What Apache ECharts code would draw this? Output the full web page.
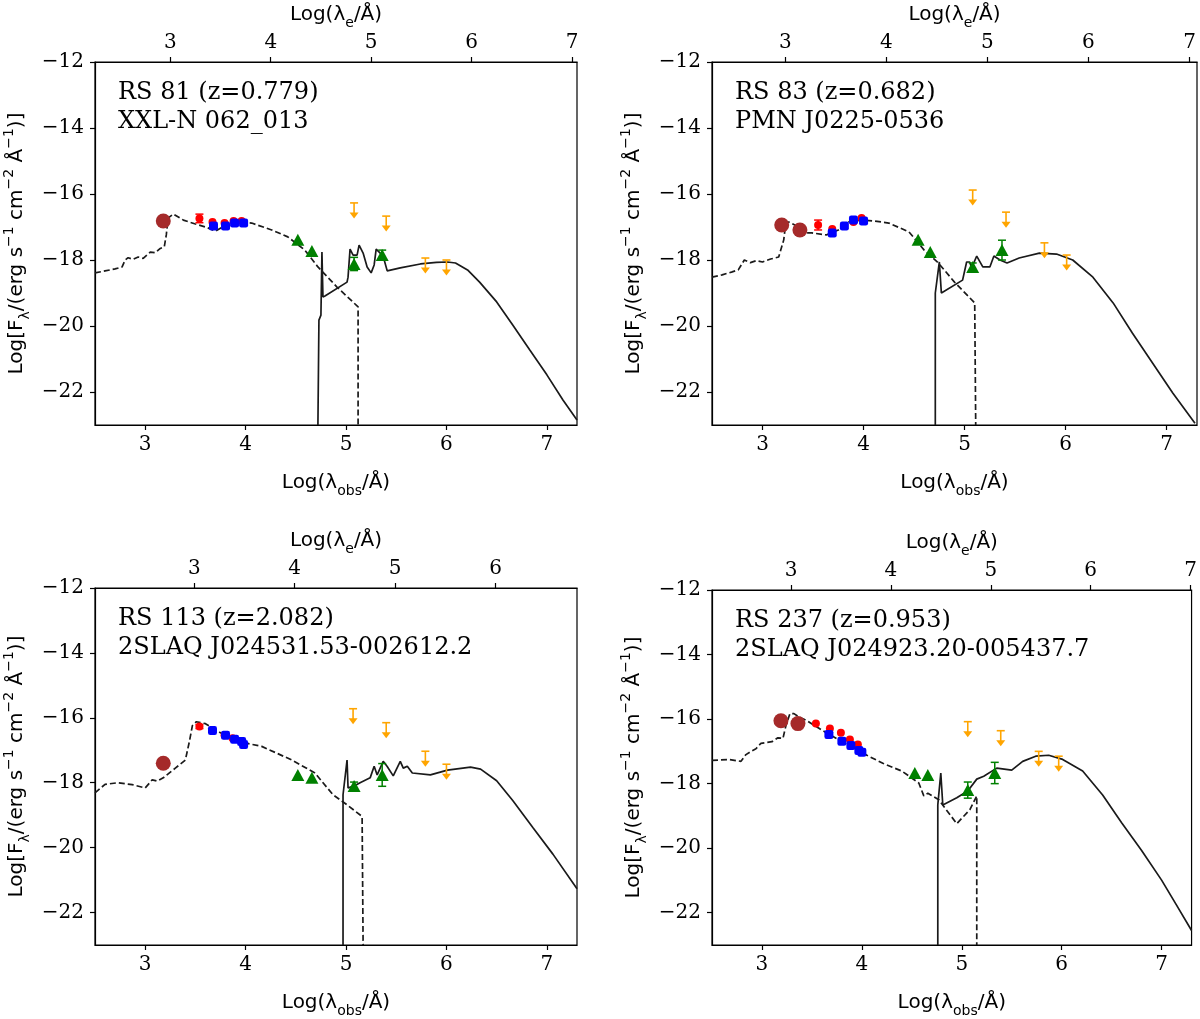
<!DOCTYPE html>
<html>
<head>
<meta charset="utf-8">
<script src="https://cdn.jsdelivr.net/npm/echarts@6/dist/echarts.min.js"></script>
<style>
html,body{margin:0;padding:0;background:#fff;}
#c{width:1200px;height:1019px;}
</style>
</head>
<body>
<div id="c"></div>
<script>
// ---------------- DATA ----------------
const redshifts = [0.779, 0.682, 2.082, 0.953];
const labelLine1 = ['RS 81 (z=0.779)', 'RS 83 (z=0.682)', 'RS 113 (z=2.082)', 'RS 237 (z=0.953)'];
const labelLine2 = ['XXL-N 062_013', 'PMN J0225-0536', '2SLAQ J024531.53-002612.2', '2SLAQ J024923.20-005437.7'];
const yTicks = [-22, -20, -18, -16, -14, -12];
const xTicksObs = [3, 4, 5, 6, 7];
const xTicksRest = [2, 3, 4, 5, 6, 7];

// Panel 1 : RS 81
const p1Dashed = [[2.5,-18.39],[2.6,-18.33],[2.7,-18.27],[2.77,-18.21],[2.8,-18.0],[2.83,-17.93],[2.88,-17.98],[2.93,-17.91],[2.98,-17.95],[3.05,-17.76],[3.1,-17.78],[3.15,-17.65],[3.19,-17.6],[3.21,-17.24],[3.22,-16.94],[3.24,-16.70],[3.28,-16.61],[3.33,-16.70],[3.38,-16.79],[3.5,-16.91],[3.6,-17.0],[3.7,-17.12],[3.76,-17.02],[3.82,-16.88],[3.96,-16.85],[4.06,-16.88],[4.26,-17.09],[4.42,-17.30],[4.59,-17.70],[4.72,-18.21],[4.91,-18.82],[5.12,-19.42],[5.12,-23]];
const p1Solid = [[4.72,-23],[4.73,-19.82],[4.75,-19.67],[4.76,-17.76],[4.77,-19.12],[4.79,-19.09],[5.01,-18.67],[5.02,-18.52],[5.04,-17.67],[5.07,-17.85],[5.11,-17.85],[5.13,-17.55],[5.17,-17.79],[5.21,-18.21],[5.25,-18.39],[5.28,-18.15],[5.30,-17.67],[5.34,-17.79],[5.38,-18.0],[5.41,-18.33],[5.54,-18.24],[5.74,-18.12],[5.9,-18.07],[6.01,-18.06],[6.09,-18.09],[6.21,-18.30],[6.33,-18.67],[6.50,-19.27],[6.66,-19.97],[6.83,-20.73],[7.0,-21.48],[7.16,-22.24],[7.3,-22.85]];
const p1Brown = [[3.18,-16.82]];
const p1Red = [[3.54,-16.74],[3.67,-16.85],[3.79,-16.88],[3.88,-16.82],[3.96,-16.82]];
const p1RedErr = [[3.54,-16.74,0.13]];
const p1Blue = [[3.68,-16.97],[3.80,-16.97],[3.89,-16.88],[3.98,-16.88]];
const p1Green = [[4.52,-17.39],[4.66,-17.73],[5.08,-18.12],[5.36,-17.85]];
const p1GreenErr = [[5.08,-18.12,0.2],[5.36,-17.85,0.15]];
const p1Upper = [[5.08,-16.27],[5.40,-16.67],[5.79,-17.94],[6.00,-18.00]];

// Panel 2 : RS 83
const p2Dashed = [[2.5,-18.52],[2.6,-18.45],[2.7,-18.36],[2.76,-18.30],[2.82,-18.0],[2.88,-18.08],[2.94,-18.02],[3.0,-18.06],[3.08,-17.97],[3.16,-17.91],[3.21,-17.39],[3.23,-16.88],[3.26,-16.85],[3.32,-16.94],[3.41,-17.18],[3.49,-17.18],[3.63,-17.24],[3.75,-17.09],[3.85,-16.85],[3.98,-16.79],[4.11,-16.82],[4.25,-16.88],[4.45,-17.15],[4.60,-17.70],[4.74,-18.09],[4.90,-18.67],[5.10,-19.30],[5.11,-19.36],[5.11,-23]];
const p2Solid = [[4.71,-23],[4.71,-19.0],[4.75,-18.06],[4.77,-19.0],[4.98,-18.61],[5.02,-18.06],[5.05,-18.06],[5.07,-18.24],[5.12,-17.88],[5.18,-18.21],[5.25,-18.21],[5.29,-17.88],[5.35,-18.0],[5.42,-18.09],[5.54,-17.94],[5.74,-17.79],[5.91,-17.82],[6.07,-18.0],[6.27,-18.52],[6.47,-19.30],[6.66,-20.21],[6.86,-21.12],[7.06,-22.03],[7.28,-22.95]];
const p2Brown = [[3.19,-16.94],[3.37,-17.09]];
const p2Red = [[3.55,-16.94],[3.69,-17.06],[3.90,-16.85],[3.98,-16.73]];
const p2RedErr = [[3.55,-16.94,0.15]];
const p2Blue = [[3.69,-17.18],[3.81,-16.97],[3.90,-16.79],[4.00,-16.82]];
const p2Green = [[4.54,-17.39],[4.66,-17.76],[5.08,-18.21],[5.37,-17.70]];
const p2GreenErr = [[5.08,-18.21,0.12],[5.37,-17.70,0.3]];
const p2Upper = [[5.08,-15.88],[5.41,-16.55],[5.79,-17.48],[6.01,-17.85]];

// Panel 3 : RS 113
const p3Dashed = [[2.5,-18.31],[2.6,-18.05],[2.73,-18.0],[2.87,-18.06],[3.0,-18.16],[3.07,-17.91],[3.12,-17.95],[3.18,-17.85],[3.3,-17.55],[3.4,-17.30],[3.44,-16.73],[3.47,-16.24],[3.51,-16.12],[3.6,-16.18],[3.76,-16.48],[3.92,-16.73],[4.16,-16.88],[4.46,-17.30],[4.69,-17.70],[4.87,-18.37],[5.01,-18.68],[5.16,-19.04],[5.17,-19.04],[5.17,-23]];
const p3Solid = [[4.97,-23],[4.97,-18.37],[5.01,-17.30],[5.02,-18.16],[5.08,-18.1],[5.14,-18.0],[5.24,-17.85],[5.28,-17.49],[5.31,-17.76],[5.37,-17.34],[5.41,-17.5],[5.47,-17.79],[5.54,-17.34],[5.57,-17.55],[5.61,-17.49],[5.66,-17.70],[5.84,-17.76],[6.01,-17.61],[6.24,-17.52],[6.34,-17.58],[6.50,-17.94],[6.66,-18.55],[6.86,-19.38],[7.06,-20.20],[7.3,-21.27]];
const p3Brown = [[3.18,-17.40]];
const p3Red = [[3.54,-16.27],[3.79,-16.54],[3.87,-16.63]];
const p3RedErr = [[3.54,-16.27,0.06]];
const p3Blue = [[3.67,-16.39],[3.80,-16.54],[3.89,-16.66],[3.96,-16.73],[3.98,-16.82]];
const p3Green = [[4.52,-17.76],[4.66,-17.85],[5.08,-18.10],[5.36,-17.76]];
const p3GreenErr = [[5.08,-18.10,0.12],[5.36,-17.76,0.35]];
const p3Upper = [[5.07,-15.72],[5.40,-16.15],[5.79,-17.03],[6.00,-17.43]];

// Panel 4 : RS 237
const p4Dashed = [[2.5,-17.28],[2.67,-17.25],[2.79,-17.31],[2.84,-17.1],[2.89,-17.0],[2.94,-16.92],[2.99,-16.75],[3.1,-16.7],[3.16,-16.58],[3.21,-16.60],[3.24,-16.20],[3.28,-15.83],[3.32,-15.83],[3.37,-15.93],[3.45,-16.05],[3.61,-16.36],[3.78,-16.66],[3.91,-16.85],[4.05,-17.12],[4.21,-17.37],[4.40,-17.61],[4.57,-17.98],[4.62,-18.38],[4.66,-18.30],[4.77,-18.50],[4.83,-18.75],[4.95,-19.24],[5.08,-18.81],[5.15,-18.38],[5.15,-23]];
const p4Solid = [[4.76,-23],[4.76,-18.66],[4.79,-17.67],[4.81,-18.66],[4.95,-18.44],[5.06,-18.23],[5.15,-17.86],[5.22,-17.77],[5.35,-17.52],[5.5,-17.58],[5.61,-17.31],[5.74,-17.15],[5.87,-17.12],[6.01,-17.25],[6.21,-17.61],[6.41,-18.35],[6.60,-19.21],[6.80,-20.07],[7.0,-20.99],[7.16,-21.82],[7.3,-22.55]];
const p4Brown = [[3.19,-16.05],[3.36,-16.14]];
const p4Red = [[3.54,-16.14],[3.68,-16.29],[3.79,-16.42],[3.88,-16.63],[3.96,-16.79]];
const p4RedErr = [];
const p4Blue = [[3.67,-16.48],[3.80,-16.69],[3.89,-16.82],[3.97,-16.97],[4.00,-17.03]];
const p4Green = [[4.53,-17.67],[4.66,-17.73],[5.06,-18.20],[5.33,-17.67]];
const p4GreenErr = [[5.06,-18.20,0.25],[5.33,-17.67,0.33]];
const p4Upper = [[5.06,-16.08],[5.39,-16.36],[5.77,-17.00],[5.97,-17.15]];

// ---------------- LAYOUT ----------------
const panelData = [
  {dashed:p1Dashed, solid:p1Solid, brown:p1Brown, red:p1Red, redErr:p1RedErr, blue:p1Blue, green:p1Green, greenErr:p1GreenErr, upper:p1Upper},
  {dashed:p2Dashed, solid:p2Solid, brown:p2Brown, red:p2Red, redErr:p2RedErr, blue:p2Blue, green:p2Green, greenErr:p2GreenErr, upper:p2Upper},
  {dashed:p3Dashed, solid:p3Solid, brown:p3Brown, red:p3Red, redErr:p3RedErr, blue:p3Blue, green:p3Green, greenErr:p3GreenErr, upper:p3Upper},
  {dashed:p4Dashed, solid:p4Solid, brown:p4Brown, red:p4Red, redErr:p4RedErr, blue:p4Blue, green:p4Green, greenErr:p4GreenErr, upper:p4Upper}
];
const grids = [
  {left:95, top:62, width:482, height:363},
  {left:712, top:62, width:485, height:363},
  {left:95, top:588, width:482, height:361},
  {left:712, top:590, width:485, height:359}
];
const X_MIN = 2.5, X_MAX = 7.3, Y_MIN = -23, Y_MAX = -12;

const tickFont = {fontFamily:'DejaVu Serif', fontSize:20, color:'#000'};
const richSubSup = {
  sub:{fontFamily:'DejaVu Sans', fontSize:14, verticalAlign:'bottom', lineHeight:14, color:'#000', padding:[0,0,-3,0]},
  sup:{fontFamily:'DejaVu Sans', fontSize:14, verticalAlign:'top', lineHeight:14, color:'#000', padding:[-3,0,0,0]}
};
const nameStyle = {fontFamily:'DejaVu Sans', fontSize:20, color:'#000', lineHeight:24, rich:richSubSup};
const minusFmt = v => (v < 0 ? '\u2212' : '') + Math.abs(Math.round(v));

const BLACK = '#1a1a1a';

function errRender(color){
  return function(params, api){
    const x = api.value(0), y = api.value(1), e = api.value(2);
    const top = api.coord([x, y + e]);
    const bot = api.coord([x, y - e]);
    const cw = 4;
    return {type:'group', children:[
      {type:'line', shape:{x1:top[0], y1:top[1], x2:bot[0], y2:bot[1]}, style:{stroke:color, lineWidth:1.5}},
      {type:'line', shape:{x1:top[0]-cw, y1:top[1], x2:top[0]+cw, y2:top[1]}, style:{stroke:color, lineWidth:1.5}},
      {type:'line', shape:{x1:bot[0]-cw, y1:bot[1], x2:bot[0]+cw, y2:bot[1]}, style:{stroke:color, lineWidth:1.5}}
    ]};
  };
}
function upperRender(params, api){
  const p = api.coord([api.value(0), api.value(1)]);
  const c = '#ffa500';
  return {type:'group', children:[
    {type:'line', shape:{x1:p[0]-4, y1:p[1], x2:p[0]+4, y2:p[1]}, style:{stroke:c, lineWidth:1.6}},
    {type:'line', shape:{x1:p[0], y1:p[1], x2:p[0], y2:p[1]+11}, style:{stroke:c, lineWidth:1.6}},
    {type:'polygon', shape:{points:[[p[0]-4.5, p[1]+9.5],[p[0]+4.5, p[1]+9.5],[p[0], p[1]+15.5]]}, style:{fill:c}}
  ]};
}

const option = {
  animation:false,
  backgroundColor:'#fff',
  grid:[], xAxis:[], yAxis:[], series:[], graphic:[]
};

panelData.forEach((pd, i) => {
  const g = grids[i];
  const off = Math.log10(1 + redshifts[i]);
  option.grid.push(Object.assign({show:true, borderColor:'#000', borderWidth:1.2, backgroundColor:'transparent', containLabel:false}, g));
  option.xAxis.push({
    type:'value', gridIndex:i, position:'bottom', min:X_MIN, max:X_MAX,
    name:'Log(λ{sub|obs}/Å)', nameLocation:'middle', nameGap:46, nameTextStyle:nameStyle,
    axisLine:{show:true, onZero:false, lineStyle:{color:'#000', width:1.2}},
    axisTick:{show:true, inside:false, length:5, customValues:xTicksObs, lineStyle:{color:'#000', width:1.2}},
    axisLabel:Object.assign({show:true, margin:10, customValues:xTicksObs, formatter:v=>String(Math.round(v))}, tickFont),
    splitLine:{show:false}
  });
  const rmin = X_MIN - off, rmax = X_MAX - off;
  const rt = xTicksRest.filter(v => v >= rmin - 1e-6 && v <= rmax + 1e-6);
  option.xAxis.push({
    type:'value', gridIndex:i, position:'top', min:rmin, max:rmax,
    name:'Log(λ{sub|e}/Å)', nameLocation:'middle', nameGap:35, nameTextStyle:nameStyle,
    axisLine:{show:true, onZero:false, lineStyle:{color:'#000', width:1.2}},
    axisTick:{show:true, inside:false, length:5, customValues:rt, lineStyle:{color:'#000', width:1.2}},
    axisLabel:Object.assign({show:true, margin:9, customValues:rt, formatter:v=>String(Math.round(v))}, tickFont),
    splitLine:{show:false}
  });
  option.yAxis.push({
    type:'value', gridIndex:i, min:Y_MIN, max:Y_MAX,
    name:'Log[F{sub|λ}/(erg s{sup|−1} cm{sup|−2} Å{sup|−1})]', nameLocation:'middle', nameGap:66, nameRotate:90,
    nameTextStyle:nameStyle,
    axisLine:{show:true, onZero:false, lineStyle:{color:'#000', width:1.2}},
    axisTick:{show:true, inside:false, length:5, customValues:yTicks, lineStyle:{color:'#000', width:1.2}},
    axisLabel:Object.assign({show:true, margin:11, customValues:yTicks, formatter:minusFmt}, tickFont),
    splitLine:{show:false}
  });
  const xi = 2*i, yi = i;
  option.series.push(
    {type:'line', xAxisIndex:xi, yAxisIndex:yi, data:pd.dashed, showSymbol:false, symbol:'none', clip:true,
     lineStyle:{color:BLACK, width:1.7, type:[6,3]}, z:2},
    {type:'line', xAxisIndex:xi, yAxisIndex:yi, data:pd.solid, showSymbol:false, symbol:'none', clip:true,
     lineStyle:{color:BLACK, width:1.7}, z:2},
    {type:'custom', xAxisIndex:xi, yAxisIndex:yi, data:pd.redErr, renderItem:errRender('#ff0000'), encode:{x:0, y:1}, z:3},
    {type:'custom', xAxisIndex:xi, yAxisIndex:yi, data:pd.greenErr, renderItem:errRender('#008000'), encode:{x:0, y:1}, z:3},
    {type:'scatter', xAxisIndex:xi, yAxisIndex:yi, data:pd.brown, symbol:'circle', symbolSize:15, itemStyle:{color:'#a52a2a', opacity:1}, z:4},
    {type:'scatter', xAxisIndex:xi, yAxisIndex:yi, data:pd.red, symbol:'circle', symbolSize:8, itemStyle:{color:'#ff0000', opacity:1}, z:4},
    {type:'scatter', xAxisIndex:xi, yAxisIndex:yi, data:pd.blue, symbol:'roundRect', symbolSize:9, itemStyle:{color:'#0000ff', opacity:1}, z:5},
    {type:'scatter', xAxisIndex:xi, yAxisIndex:yi, data:pd.green, symbol:'triangle', symbolSize:[13,12], itemStyle:{color:'#008000', opacity:1}, z:4},
    {type:'custom', xAxisIndex:xi, yAxisIndex:yi, data:pd.upper, renderItem:upperRender, encode:{x:0, y:1}, z:4}
  );
  option.graphic.push({
    type:'text', x:g.left + 23, y:g.top + 16, z:10,
    style:{text:labelLine1[i] + '\n' + labelLine2[i], fontFamily:'DejaVu Serif', fontSize:24, lineHeight:29, fill:'#000'}
  });
});

const chart = echarts.init(document.getElementById('c'), null, {renderer:'canvas'});
chart.setOption(option);
</script>
</body>
</html>
